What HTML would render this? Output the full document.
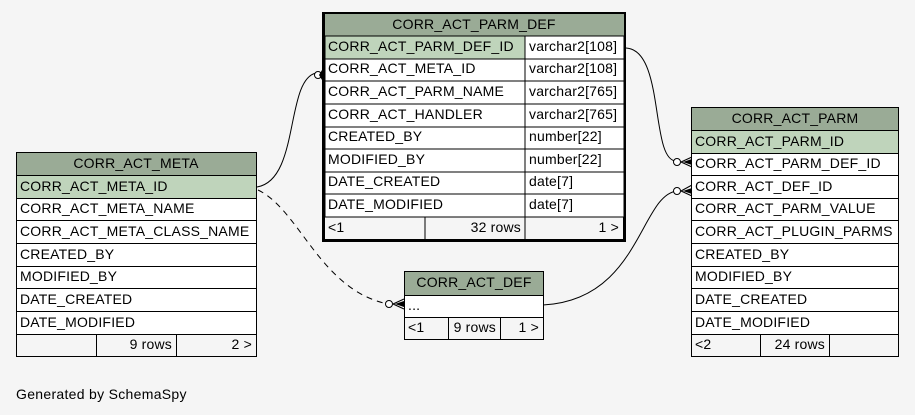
<!DOCTYPE html>
<html><head><meta charset="utf-8"><style>
html,body{margin:0;padding:0;background:#f5f5f5}
svg{display:block}
text{font-family:"Liberation Sans",sans-serif;font-size:14px;letter-spacing:0.2px;fill:#000}
</style></head><body>
<svg width="915" height="415" viewBox="0 0 915 415" xmlns="http://www.w3.org/2000/svg">
<rect width="915" height="415" fill="#f5f5f5"/>
<g fill="none" stroke="#000" stroke-width="1">
<path d="M257,187 C300,180 285,80 316,73"/>
<path d="M258,190 C300,210 320,290 388,304" stroke-dasharray="6,5"/>
<path d="M626,48 C665,50 650,160 676,161"/>
<path d="M543,305 C640,300 640,195 677,191"/>
<circle cx="318" cy="75" r="3.5" fill="#fff"/>
<circle cx="389" cy="304" r="3.5" fill="#fff"/>
<circle cx="677" cy="162" r="3.5" fill="#fff"/>
<circle cx="677" cy="191" r="3.5" fill="#fff"/>
<path d="M393,304 L404,299 M393,304 L404,309 M681,162 L692,157 M681,162 L692,167 M681,191 L692,185 M681,191 L692,196"/>
</g>
<g fill="#000">
<path d="M322,70 L322,80 L319,75 Z"/>
<path d="M395,304 L404,301 L404,307 Z"/>
<path d="M683,162 L692,159 L692,165 Z"/>
<path d="M683,191 L692,188 L692,194 Z"/>
</g>

<g stroke="#000" stroke-width="1">
<rect x="323.5" y="13.5" width="301" height="227" fill="#f5f5f5" stroke-width="3"/>
<rect x="325" y="14" width="299" height="22" fill="#9aab96" stroke="none"/>
<rect x="325" y="36" width="200" height="23" fill="#bfd4bb"/>
<rect x="525" y="36" width="99" height="23" fill="#fff"/>
<rect x="325" y="59" width="200" height="22" fill="#fff"/><rect x="525" y="59" width="99" height="22" fill="#fff"/>
<rect x="325" y="81" width="200" height="23" fill="#fff"/><rect x="525" y="81" width="99" height="23" fill="#fff"/>
<rect x="325" y="104" width="200" height="23" fill="#fff"/><rect x="525" y="104" width="99" height="23" fill="#fff"/>
<rect x="325" y="127" width="200" height="22" fill="#fff"/><rect x="525" y="127" width="99" height="22" fill="#fff"/>
<rect x="325" y="149" width="200" height="23" fill="#fff"/><rect x="525" y="149" width="99" height="23" fill="#fff"/>
<rect x="325" y="172" width="200" height="22" fill="#fff"/><rect x="525" y="172" width="99" height="22" fill="#fff"/>
<rect x="325" y="194" width="200" height="23" fill="#fff"/><rect x="525" y="194" width="99" height="23" fill="#fff"/>
<line x1="425" y1="217" x2="425" y2="239"/><line x1="525" y1="217" x2="525" y2="239"/>
</g>
<text x="474" y="29" text-anchor="middle">CORR_ACT_PARM_DEF</text>
<text x="328" y="51">CORR_ACT_PARM_DEF_ID</text><text x="529" y="51">varchar2[108]</text>
<text x="328" y="73">CORR_ACT_META_ID</text><text x="529" y="73">varchar2[108]</text>
<text x="328" y="96">CORR_ACT_PARM_NAME</text><text x="529" y="96">varchar2[765]</text>
<text x="328" y="119">CORR_ACT_HANDLER</text><text x="529" y="119">varchar2[765]</text>
<text x="328" y="141">CREATED_BY</text><text x="529" y="141">number[22]</text>
<text x="328" y="164">MODIFIED_BY</text><text x="529" y="164">number[22]</text>
<text x="328" y="186">DATE_CREATED</text><text x="529" y="186">date[7]</text>
<text x="328" y="209">DATE_MODIFIED</text><text x="529" y="209">date[7]</text>
<text x="328" y="232">&lt;1</text><text x="521" y="232" text-anchor="end">32 rows</text><text x="619" y="232" text-anchor="end">1 &gt;</text>

<g stroke="#000" stroke-width="1">
<rect x="16.5" y="152.5" width="240" height="204" fill="#f5f5f5"/>
<rect x="16.5" y="152.5" width="240" height="23" fill="#9aab96"/>
<rect x="16.5" y="175.5" width="240" height="23" fill="#bfd4bb"/>
<rect x="16.5" y="198.5" width="240" height="22" fill="#fff"/>
<rect x="16.5" y="220.5" width="240" height="23" fill="#fff"/>
<rect x="16.5" y="243.5" width="240" height="23" fill="#fff"/>
<rect x="16.5" y="266.5" width="240" height="22" fill="#fff"/>
<rect x="16.5" y="288.5" width="240" height="23" fill="#fff"/>
<rect x="16.5" y="311.5" width="240" height="23" fill="#fff"/>
<line x1="96.5" y1="334" x2="96.5" y2="356"/><line x1="176.5" y1="334" x2="176.5" y2="356"/>
</g>
<text x="136" y="168" text-anchor="middle">CORR_ACT_META</text>
<text x="20" y="191">CORR_ACT_META_ID</text>
<text x="20" y="213">CORR_ACT_META_NAME</text>
<text x="20" y="236">CORR_ACT_META_CLASS_NAME</text>
<text x="20" y="259">CREATED_BY</text>
<text x="20" y="281">MODIFIED_BY</text>
<text x="20" y="304">DATE_CREATED</text>
<text x="20" y="327">DATE_MODIFIED</text>
<text x="172" y="349" text-anchor="end">9 rows</text><text x="252" y="349" text-anchor="end">2 &gt;</text>

<g stroke="#000" stroke-width="1">
<rect x="691.5" y="107.5" width="207" height="249" fill="#f5f5f5"/>
<rect x="691.5" y="107.5" width="207" height="23" fill="#9aab96"/>
<rect x="691.5" y="130.5" width="207" height="23" fill="#bfd4bb"/>
<rect x="691.5" y="153.5" width="207" height="22" fill="#fff"/>
<rect x="691.5" y="175.5" width="207" height="23" fill="#fff"/>
<rect x="691.5" y="198.5" width="207" height="22" fill="#fff"/>
<rect x="691.5" y="220.5" width="207" height="23" fill="#fff"/>
<rect x="691.5" y="243.5" width="207" height="23" fill="#fff"/>
<rect x="691.5" y="266.5" width="207" height="22" fill="#fff"/>
<rect x="691.5" y="288.5" width="207" height="23" fill="#fff"/>
<rect x="691.5" y="311.5" width="207" height="23" fill="#fff"/>
<line x1="760.5" y1="334" x2="760.5" y2="356"/><line x1="829.5" y1="334" x2="829.5" y2="356"/>
</g>
<text x="795" y="123" text-anchor="middle">CORR_ACT_PARM</text>
<text x="695" y="146">CORR_ACT_PARM_ID</text>
<text x="695" y="168">CORR_ACT_PARM_DEF_ID</text>
<text x="695" y="191">CORR_ACT_DEF_ID</text>
<text x="695" y="213">CORR_ACT_PARM_VALUE</text>
<text x="695" y="236">CORR_ACT_PLUGIN_PARMS</text>
<text x="695" y="259">CREATED_BY</text>
<text x="695" y="281">MODIFIED_BY</text>
<text x="695" y="304">DATE_CREATED</text>
<text x="695" y="327">DATE_MODIFIED</text>
<text x="695" y="349">&lt;2</text><text x="825" y="349" text-anchor="end">24 rows</text>

<g stroke="#000" stroke-width="1">
<rect x="404.5" y="271.5" width="139" height="68" fill="#f5f5f5"/>
<rect x="404.5" y="271.5" width="139" height="24" fill="#9aab96"/>
<rect x="404.5" y="295.5" width="139" height="22" fill="#fff"/>
<line x1="448.5" y1="317" x2="448.5" y2="339"/><line x1="500.5" y1="317" x2="500.5" y2="339"/>
</g>
<text x="474" y="287" text-anchor="middle">CORR_ACT_DEF</text>
<text x="408" y="310">...</text>
<text x="408" y="332">&lt;1</text><text x="496" y="332" text-anchor="end">9 rows</text><text x="539" y="332" text-anchor="end">1 &gt;</text>

<text x="16" y="399" style="font-size:14px;letter-spacing:0.3px">Generated by SchemaSpy</text>
</svg>
</body></html>
